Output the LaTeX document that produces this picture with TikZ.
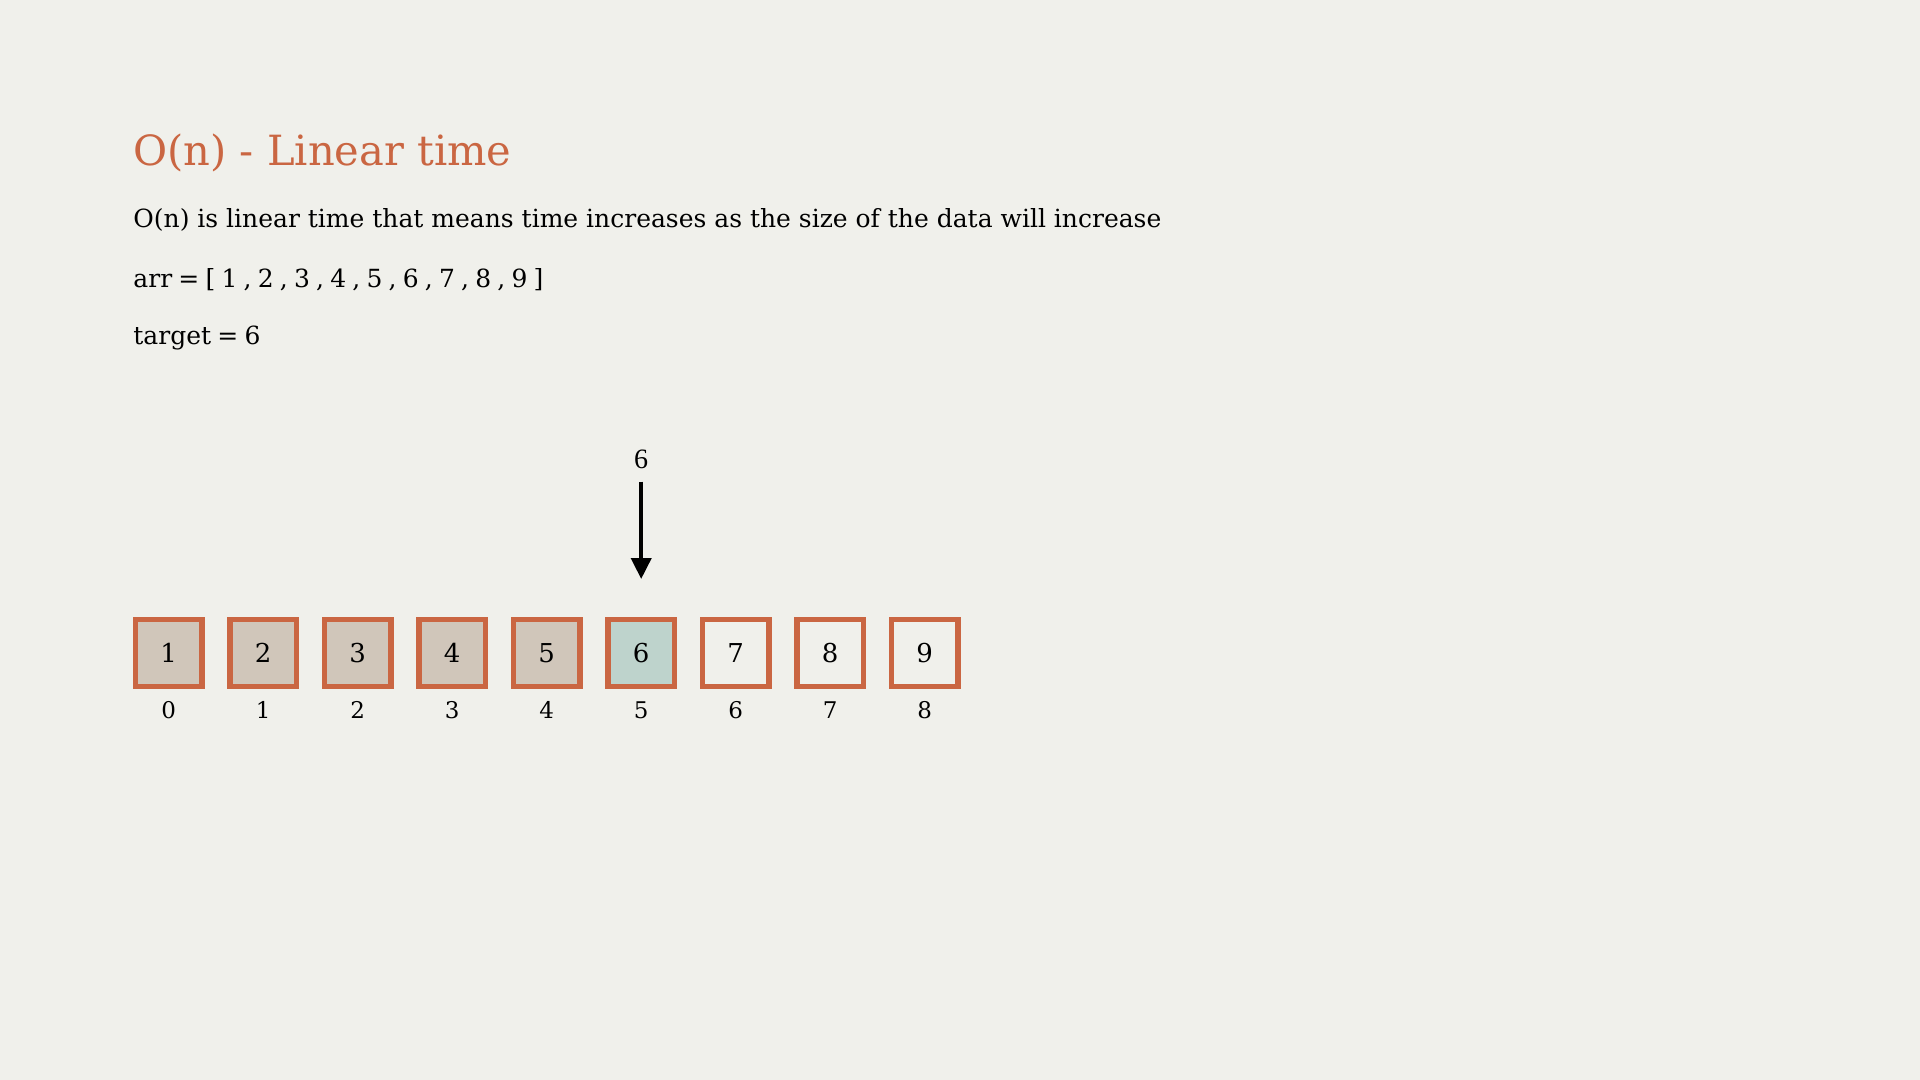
\documentclass[tikz,border=0pt]{standalone}
\usepackage{fontspec}
\setmainfont{DejaVu Serif}
\newfontfamily\labfont{Liberation Serif}
\usetikzlibrary{arrows.meta}
\definecolor{bg}{RGB}{240,240,235}
\definecolor{accent}{RGB}{202,102,66}
\definecolor{visited}{RGB}{208,198,186}
\definecolor{found}{RGB}{190,211,204}
\tikzset{
  cell/.style={draw=accent, line width=2.65pt, minimum size=33.35pt, inner sep=0pt,
    font=\fontsize{13}{14}\selectfont, text=black},
  idx/.style={anchor=base, inner sep=0pt, font=\fontsize{11.5}{12}\selectfont},
  bodytext/.style={anchor=base west, inner sep=0pt, font=\fontsize{12.5}{14}\selectfont},
  pointer/.style={line width=2pt, -{Triangle[width=10pt,length=10.5pt]}}
}
\begin{document}
\begin{tikzpicture}[x=0.5pt,y=-0.5pt]
\fill[bg] (0,0) rectangle (1920,1080);
\useasboundingbox (0,0) rectangle (1920,1080);
\node[anchor=base west, inner sep=0pt, text=accent, font=\fontsize{20.8}{22}\selectfont] (title) at (133,166) {O(n) - Linear time};
\node[bodytext] (desc) at (133,228) {O(n) is linear time that means time increases as the size of the data will increase};
\node[bodytext] (arr) at (133,288) {\spaceskip=3.1pt arr = [ 1 , 2 , 3 , 4 , 5 , 6 , 7 , 8 , 9 ]};
\node[bodytext] (target) at (133,344) {\spaceskip=3.1pt target = 6};
\foreach \v [count=\i from 0] in {1,...,9}{
  \pgfmathsetmacro{\cx}{168.7+94.5*\i}
  \ifnum\i<5
    \node[cell, fill=visited] (b\i) at (\cx,653) {\v};
  \else\ifnum\i=5
    \node[cell, fill=found] (b\i) at (\cx,653) {\v};
  \else
    \node[cell, fill=bg] (b\i) at (\cx,653) {\v};
  \fi\fi
  \node[idx] (i\i) at (\cx,718) {\i};
}
\node[anchor=base, inner sep=0pt, font=\labfont\fontsize{14}{15}\selectfont] (lab) at (641.2,468) {6};
\draw[pointer, shorten <=6.5pt, shorten >=19pt] (lab.south) -- (b5.north);
\end{tikzpicture}
\end{document}
